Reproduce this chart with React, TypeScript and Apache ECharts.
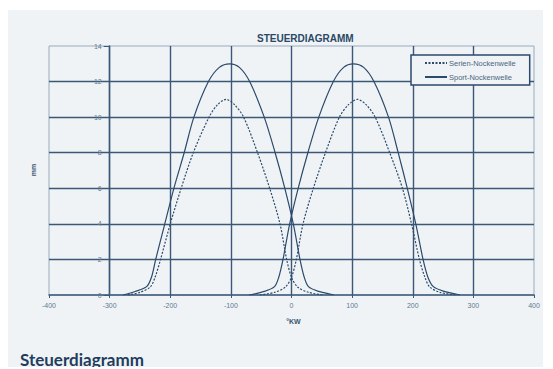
import React, { useEffect, useRef } from "react";
import * as echarts from "echarts";

const TITLE = "STEUERDIAGRAMM";
const CAPTION = "Steuerdiagramm";
const X_NAME = "°KW";
const Y_NAME = "mm";
const SERIEN = "Serien-Nockenwelle";
const SPORT = "Sport-Nockenwelle";

// Sport-Nockenwelle (solid), lobe 1 and lobe 2: [°KW, mm]
const sportLobe1: [number, number][] = [
  [-278, 0], [-258, 0.2], [-239, 0.47], [-231, 1], [-224, 2], [-209, 4], [-194, 6],
  [-177, 8], [-161, 10], [-137, 12], [-119, 12.8], [-102, 13], [-86, 12.8], [-69, 12],
  [-45, 10], [-27, 8], [-11, 6], [3, 4], [14, 2], [21, 1], [28, 0.47], [45, 0.2], [70, 0],
];
const sportLobe2: [number, number][] = [
  [-70, 0], [-45, 0.2], [-28, 0.47], [-21, 1], [-14, 2], [-3, 4], [11, 6], [27, 8],
  [45, 10], [69, 12], [86, 12.8], [102, 13], [119, 12.8], [136, 12], [160, 10], [176, 8],
  [191, 6], [205, 4], [217, 2], [225, 1], [234, 0.47], [252, 0.2], [278, 0],
];
// Serien-Nockenwelle (dashed)
const serienLobe1: [number, number][] = [
  [-270, 0], [-250, 0.15], [-233, 0.45], [-225, 1], [-216, 2], [-200, 4], [-182, 6],
  [-162, 8], [-136, 10], [-122, 10.7], [-108, 11], [-94, 10.7], [-79, 10], [-56, 8],
  [-36, 6], [-19, 4], [-8, 2], [0, 1], [10, 0.45], [28, 0.15], [52, 0],
];
const serienLobe2: [number, number][] = [
  [-52, 0], [-28, 0.15], [-10, 0.45], [0, 1], [8, 2], [19, 4], [36, 6], [56, 8],
  [79, 10], [94, 10.7], [109, 11], [123, 10.7], [138, 10], [162, 8], [183, 6], [198, 4],
  [211, 2], [220, 1], [228, 0.45], [245, 0.15], [272, 0],
];

const X_MIN = -400, X_MAX = 400, X_STEP = 100;
const Y_MIN = 0, Y_MAX = 14, Y_STEP = 2;

const BG = "#eff3f5";
const INK = "#2c4a6b";
const GRID = "#3b5878";
const LABEL = "#637990";

export default function App() {
  const ref = useRef<HTMLDivElement>(null);
  useEffect(() => {
    if (!ref.current) return;
    const chart = echarts.init(ref.current, undefined, { renderer: "svg" });
    const lineSeries = (name: string, data: [number, number][], dashed: boolean) => ({
      name,
      type: "line",
      data,
      smooth: 0.3,
      symbol: "none",
      showSymbol: false,
      z: 5,
      lineStyle: { color: INK, width: 1.2, type: dashed ? [2, 1.5] : "solid" },
      itemStyle: { color: INK },
    });
    chart.setOption({
      animation: false,
      backgroundColor: BG,
      textStyle: { fontFamily: "Liberation Sans, Arial, sans-serif" },
      grid: {
        left: 41, right: 9, top: 36, bottom: 74,
        show: true, borderColor: "#9aabbd", borderWidth: 1, backgroundColor: "transparent",
      },
      legend: {
        data: [SERIEN, SPORT],
        orient: "vertical",
        left: 403, top: 45,
        padding: [4, 14, 4, 13],
        itemWidth: 22, itemHeight: 10, itemGap: 6,
        borderColor: INK, borderWidth: 1.5, borderRadius: 0,
        backgroundColor: BG,
        itemStyle: { opacity: 0 },
        textStyle: { fontSize: 7.5, color: "#4c667f", padding: [0, 0, 0, -3] },
        selectedMode: false,
      },
      xAxis: {
        type: "value",
        min: X_MIN, max: X_MAX, interval: X_STEP,
        axisLine: { onZero: false, lineStyle: { color: GRID, width: 1.5 } },
        axisTick: { show: true, length: 3, lineStyle: { color: GRID } },
        axisLabel: { fontSize: 7, color: LABEL, margin: 7 },
        splitLine: { show: true, showMinLine: false, showMaxLine: false, lineStyle: { color: GRID, width: 1.4 } },
      },
      yAxis: {
        type: "value",
        min: Y_MIN, max: Y_MAX, interval: Y_STEP,
        offset: -60.7,
        axisLine: { show: true, onZero: false, lineStyle: { color: GRID, width: 1.4 } },
        axisTick: { show: true, length: 6, lineStyle: { color: GRID } },
        axisLabel: { fontSize: 7, color: LABEL, margin: 8 },
        splitLine: { show: true, showMinLine: false, showMaxLine: false, lineStyle: { color: GRID, width: 1.4 } },
      },
      graphic: [
        {
          type: "text", left: 249, top: 23,
          style: { text: TITLE, font: "bold 10px Liberation Sans, Arial, sans-serif", fill: "#2b4866" },
        },
        {
          type: "text", x: 25, y: 160, rotation: Math.PI / 2,
          style: { text: Y_NAME, font: "bold 7px Liberation Sans, Arial, sans-serif", fill: "#3a5572", align: "center", verticalAlign: "middle" },
        },
        {
          type: "text", x: 285.5, y: 311,
          style: { text: X_NAME, font: "bold 7px Liberation Sans, Arial, sans-serif", fill: "#3a5572", align: "center", verticalAlign: "middle" },
        },
        {
          type: "text", x: 12, y: 349.5,
          style: { text: CAPTION, font: "bold 17px Lato, sans-serif", fill: "#1f3d5e", align: "left", verticalAlign: "middle" },
        },
      ],
      series: [
        lineSeries(SERIEN, serienLobe1, true),
        lineSeries(SERIEN, serienLobe2, true),
        lineSeries(SPORT, sportLobe1, false),
        lineSeries(SPORT, sportLobe2, false),
      ],
    });
    return () => chart.dispose();
  }, []);
  return (
    <div
      ref={ref}
      style={{ width: 535, height: 359, position: "relative", top: 2 }}
    />
  );
}
